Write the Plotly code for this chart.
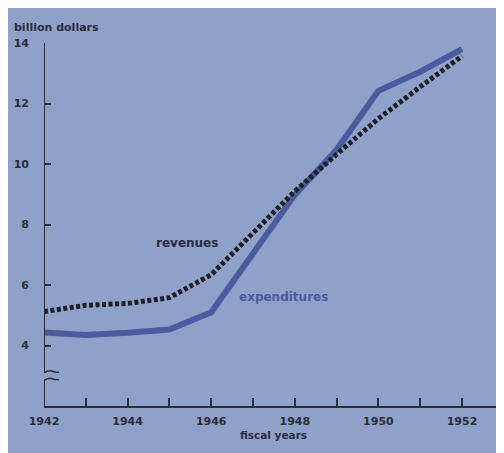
import plotly.graph_objects as go

years = [1942, 1943, 1944, 1945, 1946, 1947, 1948, 1949, 1950, 1951, 1952]
expenditures = [4.43, 4.35, 4.42, 4.53, 5.10, 7.05, 8.98, 10.47, 12.42, 13.05, 13.80]
revenues = [5.12, 5.33, 5.39, 5.58, 6.34, 7.73, 9.10, 10.32, 11.50, 12.55, 13.57]
y_ticks = [4, 6, 8, 10, 12, 14]
x_ticks = [1942, 1944, 1946, 1948, 1950, 1952]

BG = "#8fa1c8"
INK = "#2a2e3c"
BLUE = "#4b5c9c"
FONT = "DejaVu Sans"

PW = 460.0  # plot width in px
PH = 363.0  # plot height in px

fig = go.Figure()
fig.add_trace(go.Scatter(x=years, y=expenditures, mode="lines",
                         line=dict(color=BLUE, width=6), name="expenditures",
                         hoverinfo="skip"))
fig.add_trace(go.Scatter(x=years, y=revenues, mode="lines",
                         line=dict(color="#1e2029", width=5, dash="4px,2.5px"),
                         name="revenues", hoverinfo="skip"))

shapes = []
# broken y axis
shapes.append(dict(type="line", xref="x", yref="y", x0=1942, x1=1942, y0=3.1, y1=14,
                   line=dict(color=INK, width=2)))
shapes.append(dict(type="line", xref="x", yref="y", x0=1942, x1=1942, y0=2, y1=2.85,
                   line=dict(color=INK, width=2)))
# break squiggles
for yb in (3.1, 2.85):
    shapes.append(dict(type="path", xref="x", yref="y",
                       path=f"M 1942 {yb} Q 1942.12 {yb+0.1} 1942.2 {yb+0.05} T 1942.36 {yb+0.02}",
                       line=dict(color=INK, width=1.5)))

fig.update_layout(
    width=496, height=445,
    margin=dict(l=36, r=0, t=35, b=47),
    paper_bgcolor=BG, plot_bgcolor=BG,
    showlegend=False,
    font=dict(family=FONT, color=INK, size=11, weight="bold"),
    shapes=shapes,
    xaxis=dict(range=[1942, 1942 + PW / 41.8], tickvals=x_ticks, ticktext=[str(v) for v in x_ticks],
               ticks="inside", ticklen=8, tickwidth=2, tickcolor=INK,
               minor=dict(dtick=1, ticks="inside", ticklen=8, tickwidth=2, tickcolor=INK),
               showline=True, linecolor=INK, linewidth=2, showgrid=False, zeroline=False,
               tickfont=dict(size=11, weight="bold"), ticklabelstandoff=4),
    yaxis=dict(range=[2, 14], tickvals=y_ticks, ticktext=[str(v) for v in y_ticks],
               ticks="inside", ticklen=7, tickwidth=2, tickcolor=INK,
               showline=False, showgrid=False, zeroline=False,
               tickfont=dict(size=11, weight="bold"), ticklabelstandoff=14),
    annotations=[
        dict(text="billion dollars", xref="paper", yref="paper", x=(12 - 44) / PW, y=(406 - 28) / PH,
             xanchor="left", yanchor="middle", showarrow=False, font=dict(size=11, weight="bold")),
        dict(text="fiscal years", xref="paper", yref="paper", x=(273 - 44) / PW, y=(406 - 435) / PH,
             xanchor="center", yanchor="middle", showarrow=False, font=dict(size=10.5, weight="bold")),
        dict(text="revenues", xref="x", yref="y", x=1945.42, y=7.4,
             showarrow=False, font=dict(size=12, color=INK, weight="bold")),
        dict(text="expenditures", xref="x", yref="y", x=1947.74, y=5.62,
             showarrow=False, font=dict(size=12, color=BLUE, weight="bold")),
    ],
)

fig.write_html("out.html")
